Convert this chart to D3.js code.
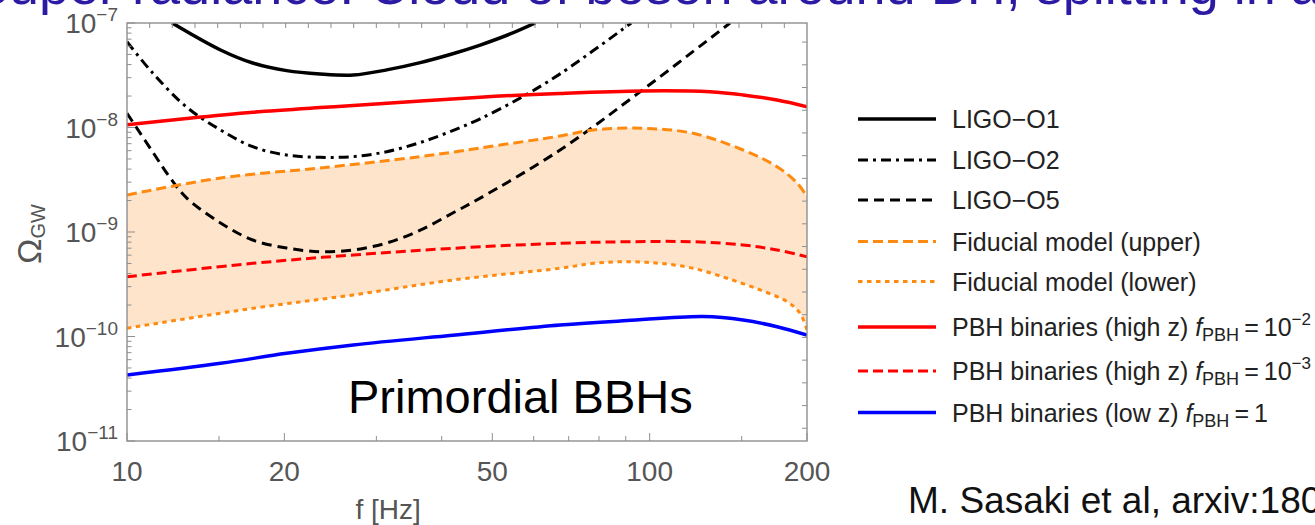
<!DOCTYPE html>
<html>
<head>
<meta charset="utf-8">
<script src="https://cdn.jsdelivr.net/npm/d3@7"></script>
<style>
  body { margin: 0; background: #fff; overflow: hidden; }
  text { font-family: "Liberation Sans", Arial, sans-serif; }
</style>
</head>
<body>
<svg id="chart" width="1315" height="525"></svg>
<script>
// ---- data (f in Hz, Omega_GW) ----
const o1F = [12.2, 15.1, 17.4, 20.2, 23.4, 27.1, 31.4, 36.4, 42.0, 47.4, 54.1, 60.4];
const o1Omega = [1e-7, 5.52e-8, 4.14e-8, 3.50e-8, 3.25e-8, 3.18e-8, 3.56e-8, 4.18e-8, 5.08e-8, 6.15e-8, 7.85e-8, 1e-7];

const o2F = [10, 11.2, 13.0, 15.1, 17.4, 20.2, 23.4, 27.1, 31.4, 36.4, 42.0, 47.4, 56.6, 67.4, 92.2];
const o2Omega = [6.62e-8, 3.32e-8, 1.57e-8, 9.47e-9, 6.55e-9, 5.45e-9, 5.19e-9, 5.26e-9, 5.87e-9, 7.18e-9, 9.34e-9, 1.21e-8, 1.92e-8, 3.26e-8, 1e-7];

const o5F = [10, 11.2, 12.1, 13.0, 15.1, 17.4, 20.2, 23.4, 27.1, 31.4, 36.4, 42.0, 47.4, 67.4, 95.0, 142.5];
const o5Omega = [1.37e-8, 5.83e-9, 3.29e-9, 2.12e-9, 1.22e-9, 8.38e-10, 7.03e-10, 6.48e-10, 6.73e-10, 7.85e-10, 1.04e-9, 1.52e-9, 2.11e-9, 6.09e-9, 2.12e-8, 1e-7];

const upperF = [10, 15.1, 23.4, 36.4, 47.4, 67.4, 78.0, 97.1, 121.1, 150.9, 175.3, 191.5, 200];
const upperOmega = [2.26e-9, 3.29e-9, 4.10e-9, 5.26e-9, 6.37e-9, 8.30e-9, 9.47e-9, 9.83e-9, 8.80e-9, 6.09e-9, 4.22e-9, 2.94e-9, 2.18e-9];

const lowerF = [10, 17.4, 27.1, 42.0, 67.4, 78.0, 90.5, 104.7, 121.1, 140.6, 162.7, 183.3, 194.0, 200];
const lowerOmega = [1.20e-10, 1.86e-10, 2.50e-10, 3.47e-10, 4.50e-10, 5.01e-10, 5.20e-10, 5.01e-10, 4.50e-10, 3.61e-10, 2.79e-10, 2.15e-10, 1.67e-10, 1.15e-10];

const highZ2F = [10, 13.0, 17.4, 23.4, 27.1, 47.4, 67.4, 97.1, 130.5, 150.9, 175.3, 200];
const highZ2Omega = [1.06e-8, 1.22e-8, 1.40e-8, 1.55e-8, 1.62e-8, 1.95e-8, 2.12e-8, 2.24e-8, 2.20e-8, 2.05e-8, 1.83e-8, 1.58e-8];

const highZ3F = [10, 17.4, 27.1, 42.0, 67.4, 90.5, 121.1, 150.9, 175.3, 200];
const highZ3Omega = [3.73e-10, 5.01e-10, 6.03e-10, 6.98e-10, 7.80e-10, 8.07e-10, 8.07e-10, 7.51e-10, 6.73e-10, 5.80e-10];

const lowZF = [10, 15.1, 20.2, 27.1, 42.0, 67.4, 90.5, 126.6, 150.9, 175.3, 200];
const lowZOmega = [4.28e-11, 5.54e-11, 6.90e-11, 8.30e-11, 1.03e-10, 1.29e-10, 1.42e-10, 1.55e-10, 1.44e-10, 1.24e-10, 1.03e-10];

// ticks and labels
const xTickLabels = [10, 20, 50, 100, 200];
const xMinorTicks = [15, 30, 40, 60, 70, 80, 90, 150];
const yDecades = [-11, -10, -9, -8, -7];
const legendLabels = ["LIGO\u2212O1", "LIGO\u2212O2", "LIGO\u2212O5", "Fiducial model (upper)",
  "Fiducial model (lower)", "PBH binaries (high z) ", "PBH binaries (high z) ", "PBH binaries (low z) "];
const legendFpbh = [null, null, null, null, null, "\u22122", "\u22123", "1"];

// ---- layout ----
const svg = d3.select("#chart");
const plotLeft = 127, plotTop = 23, plotW = 680, plotH = 418;
const frameColor = "#8f8f8f";
const labelColor = "#555";

const x = d3.scaleLog().domain([10, 200]).range([0, plotW]);
const y = d3.scaleLog().domain([1e-11, 1e-7]).range([plotH, 0]);

// slide title, mostly cut off by the top edge
svg.append("text")
  .attr("x", -27).attr("y", 4)
  .attr("font-size", 54).attr("fill", "#2b1aa3")
  .text("Super radiance: Cloud of boson around BH, splitting in a");

const plot = svg.append("g").attr("transform", "translate(" + plotLeft + "," + plotTop + ")");

plot.append("clipPath").attr("id", "clip")
  .append("rect").attr("width", plotW).attr("height", plotH);

const zip = (fs, os) => fs.map((f, i) => [f, os[i]]);
const curve = d3.curveCatmullRom.alpha(0.5);

// band between fiducial upper and lower
const area = d3.area()
  .x(d => x(d[0])).y0(plotH).y1(d => y(d[1]))
  .curve(curve);
plot.append("path").datum(zip(upperF, upperOmega))
  .attr("d", area).attr("fill", "#fee4ca");
plot.append("path").datum(zip(lowerF, lowerOmega))
  .attr("d", area).attr("fill", "#fff");

// series
const series = [
  { f: o1F, o: o1Omega, color: "#000", dash: null, w: 3.5 },
  { f: o2F, o: o2Omega, color: "#000", dash: "10,5,3,5", w: 3 },
  { f: o5F, o: o5Omega, color: "#000", dash: "10,6", w: 3 },
  { f: upperF, o: upperOmega, color: "#ff8a10", dash: "10,5", w: 3 },
  { f: lowerF, o: lowerOmega, color: "#ff8a10", dash: "4.5,4.5", w: 3 },
  { f: highZ2F, o: highZ2Omega, color: "#ff0000", dash: null, w: 3.5 },
  { f: highZ3F, o: highZ3Omega, color: "#ff0000", dash: "10,5", w: 3 },
  { f: lowZF, o: lowZOmega, color: "#0000ff", dash: null, w: 3.5 }
];

const line = d3.line()
  .x(d => x(d[0])).y(d => y(d[1]))
  .curve(curve);

const lines = plot.append("g").attr("clip-path", "url(#clip)");
series.forEach(s => {
  lines.append("path").datum(zip(s.f, s.o))
    .attr("d", line)
    .attr("fill", "none")
    .attr("stroke", s.color)
    .attr("stroke-width", s.w)
    .attr("stroke-dasharray", s.dash);
});

// frame and ticks (ticks point inward)
plot.append("rect").attr("width", plotW).attr("height", plotH)
  .attr("fill", "none").attr("stroke", frameColor).attr("stroke-width", 1.4);

const ticks = plot.append("g").attr("stroke", frameColor).attr("stroke-width", 1);

// left: log ticks
yDecades.forEach(e => {
  ticks.append("line").attr("x1", 0).attr("x2", 8)
    .attr("y1", y(10 ** e)).attr("y2", y(10 ** e));
  if (e < -7) {
    d3.range(2, 10).forEach(k => {
      const v = k * 10 ** e;
      ticks.append("line").attr("x1", 0).attr("x2", 4.5)
        .attr("y1", y(v)).attr("y2", y(v));
    });
  }
});

// bottom: log ticks
xTickLabels.forEach(f => {
  ticks.append("line").attr("x1", x(f)).attr("x2", x(f))
    .attr("y1", plotH).attr("y2", plotH - 8);
});
xMinorTicks.forEach(f => {
  ticks.append("line").attr("x1", x(f)).attr("x2", x(f))
    .attr("y1", plotH).attr("y2", plotH - 5);
});

// top and right: evenly spaced frame ticks
const topScale = d3.scaleLinear().domain([0, 30]).range([0, plotW]);
d3.range(1, 30).forEach(v => {
  ticks.append("line").attr("x1", topScale(v)).attr("x2", topScale(v))
    .attr("y1", 0).attr("y2", 5);
});
const rightScale = d3.scaleLinear().domain([0, 18.4]).range([plotH, 0]);
d3.range(0.56, 18, 1).forEach(v => {
  ticks.append("line").attr("x1", plotW).attr("x2", plotW - 5)
    .attr("y1", rightScale(v)).attr("y2", rightScale(v));
});

// y tick labels 10^e
yDecades.forEach(e => {
  const t = svg.append("text")
    .attr("x", 118).attr("y", plotTop + y(10 ** e) + 10)
    .attr("text-anchor", "end").attr("fill", labelColor).attr("font-size", 28);
  t.append("tspan").text("10");
  t.append("tspan").attr("font-size", 19).attr("dy", -12).text("\u2212" + Math.abs(e));
});

// x tick labels
xTickLabels.forEach(f => {
  svg.append("text")
    .attr("x", plotLeft + x(f)).attr("y", 481)
    .attr("text-anchor", "middle").attr("fill", labelColor).attr("font-size", 28)
    .text(f);
});

// axis titles
svg.append("text")
  .attr("x", plotLeft + x(31.6)).attr("y", 519)
  .attr("text-anchor", "middle").attr("fill", labelColor).attr("font-size", 28)
  .text("f [Hz]");

const yTitle = svg.append("text")
  .attr("transform", "translate(41,234) rotate(-90)")
  .attr("text-anchor", "middle").attr("fill", labelColor).attr("font-size", 34);
yTitle.append("tspan").text("\u03A9");
yTitle.append("tspan").attr("font-size", 20).attr("dy", 4).text("GW");

// annotation inside plot
svg.append("text")
  .attr("x", 348).attr("y", 413)
  .attr("font-size", 47).attr("fill", "#000")
  .text("Primordial BBHs");

// legend
const legendY = [119, 160, 200, 241.5, 281.5, 327, 371, 412.5];
const legend = svg.append("g");
series.forEach((s, i) => {
  const ly = legendY[i];
  legend.append("line")
    .attr("x1", 858).attr("x2", 936).attr("y1", ly).attr("y2", ly)
    .attr("stroke", s.color).attr("stroke-width", s.w)
    .attr("stroke-dasharray", s.dash);
  const t = legend.append("text")
    .attr("x", 952).attr("y", ly + 9)
    .attr("font-size", 25).attr("fill", "#222");
  t.append("tspan").text(legendLabels[i]);
  if (legendFpbh[i] !== null) {
    t.append("tspan").attr("font-style", "italic").text("f");
    t.append("tspan").attr("font-size", 18).attr("dy", 5).text("PBH");
    if (legendFpbh[i] === "1") {
      t.append("tspan").attr("dy", -5).text("\u2009=\u20091");
    } else {
      t.append("tspan").attr("dy", -5).text("\u2009=\u200910");
      t.append("tspan").attr("font-size", 17).attr("dy", -11).text(legendFpbh[i]);
    }
  }
});

// citation
svg.append("text")
  .attr("x", 908).attr("y", 513)
  .attr("font-size", 37).attr("fill", "#111")
  .text("M. Sasaki et al, arxiv:180");
</script>
</body>
</html>
